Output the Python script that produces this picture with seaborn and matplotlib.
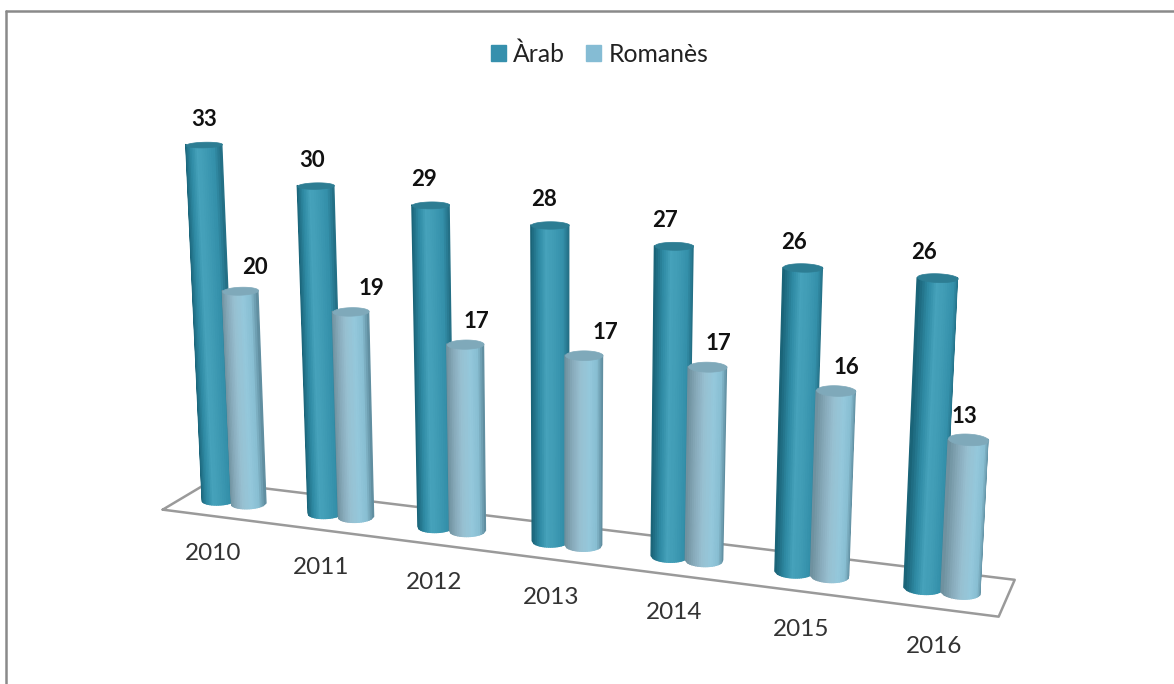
import numpy as np
import matplotlib
matplotlib.use("Agg")
import matplotlib.pyplot as plt
from matplotlib.patches import Patch
from matplotlib.lines import Line2D
from mpl_toolkits.mplot3d import proj3d
from mpl_toolkits.mplot3d.art3d import Poly3DCollection
import seaborn as sns

# Data
years = ["2010", "2011", "2012", "2013", "2014", "2015", "2016"]
arab = [33, 30, 29, 28, 27, 26, 26]
romanes = [20, 19, 17, 17, 17, 16, 13]

# Value labels are nudged sideways from the top of each bar, in pixels
arab_nudge = [0, -4, -6, -6, -9, -9, -13]
rom_nudge = [15, 21, 11, 22, 11, 11, -4]

# Colours
arab_stops = ["#1a6478", "#2f8ba5", "#46a2bb", "#3d99b3", "#3490aa", "#1c6276"]
rom_stops = ["#6f919f", "#8aadbd", "#97c0d1", "#94c8dc", "#88bed2", "#4f7a8a"]
arab_cap = "#2d7d93"
rom_cap = "#7fa9ba"
arab_key = "#3690ad"
rom_key = "#85bcd4"

# Camera and layout
elev, azim = 14.5, -70
focal = 0.33
box_x, box_y, box_z = 1.415, 0.16, 0.67
top_z = 36
radius = 0.146
offset = 0.14

sns.set_theme(style="white")
plt.rcParams["font.family"] = ["Lato", "DejaVu Sans"]

fig = plt.figure(figsize=(11.74, 6.84), dpi=100)
side = 1174 / 684
ax = fig.add_axes([-36 / 1174, 1 - 358 / 684 - side / 2, 1, side], projection="3d", computed_zorder=False)
ax.view_init(elev=elev, azim=azim)
ax.set_proj_type("persp", focal_length=focal)
ax.set_axis_off()

depth = box_y / box_x * 7 / 2
norm = np.linalg.norm([box_x, box_y, box_z])
ax.set_box_aspect((box_x, box_y, box_z), zoom=norm / (1.8294640721620434 * 25 / 24))


def cylinder(x0, height, stops, cap, z):
    colors = np.array(sns.blend_palette(stops, 64))
    # only the half facing the camera, in strips of equal width on screen
    u = np.linspace(0, 1, 21)
    t = np.deg2rad(azim) + np.arcsin(2 * u - 1)
    X = np.array([x0 + radius * np.cos(t)] * 2)
    Y = np.array([radius * np.sin(t)] * 2)
    Z = np.array([np.zeros_like(t), np.full_like(t, height)])
    fc = colors[(u * 63).astype(int)]
    ax.plot_surface(X, Y, Z, facecolors=np.array([fc, fc]), rstride=1, cstride=1,
                    shade=False, linewidth=1.0, zorder=z)
    rim = np.linspace(0, 2 * np.pi, 61)
    ring = list(zip(x0 + radius * np.cos(rim), radius * np.sin(rim), np.full_like(rim, height)))
    ax.add_collection3d(Poly3DCollection([ring], facecolors=cap, edgecolors=cap, linewidths=0.5, zorder=z + 0.5))


def label(x, y, z, text, dx, dy, **kw):
    # 2D text placed at the projected 3D point
    px, py, _ = proj3d.proj_transform(x, y, z, ax.get_proj())
    ax.annotate(text, xy=(px, py), xytext=(dx, dy), textcoords="offset pixels",
                ha="center", va="center", zorder=100, **kw)


for i, year in enumerate(years):
    cylinder(i - offset, arab[i], arab_stops, arab_cap, 10 + 2 * i)
    cylinder(i + offset, romanes[i], rom_stops, rom_cap, 11 + 2 * i)

# Floor
fx = [-0.455, 6.485, 6.485, -0.455, -0.455]
fy = [-depth, -depth, depth, depth, -depth]
ax.plot(fx, fy, [0] * 5, color="#9a9a9a", lw=1.8, zorder=1)

ax.set_xlim(-0.5, 6.5)
ax.set_ylim(-depth, depth)
ax.set_zlim(0, top_z)

for i, year in enumerate(years):
    label(i - offset, 0, arab[i], str(arab[i]), arab_nudge[i], 25,
          fontsize=16, fontweight="bold", color="#111111")
    label(i + offset, 0, romanes[i], str(romanes[i]), rom_nudge[i], 23,
          fontsize=16, fontweight="bold", color="#111111")
    label(i, -depth, 0, year, 2, -38, fontsize=17.5, color="#333333")

handles = [Patch(color=arab_key, label="Àrab"), Patch(color=rom_key, label="Romanès")]
fig.legend(handles=handles, loc="center", bbox_to_anchor=(599.5 / 1174, 1 - 54 / 684), ncol=2, frameon=False,
           fontsize=17.8, handlelength=0.6, handleheight=0.6, handletextpad=0.3, columnspacing=0.85,
           labelcolor="#222222")

# Picture border
fig.add_artist(Line2D([6 / 1174, 6 / 1174], [0, 1 - 11 / 684], color="#8a8a8a", lw=1.8))
fig.add_artist(Line2D([6 / 1174, 1], [1 - 11 / 684, 1 - 11 / 684], color="#8a8a8a", lw=1.8))

fig.savefig("out.png", dpi=100)
